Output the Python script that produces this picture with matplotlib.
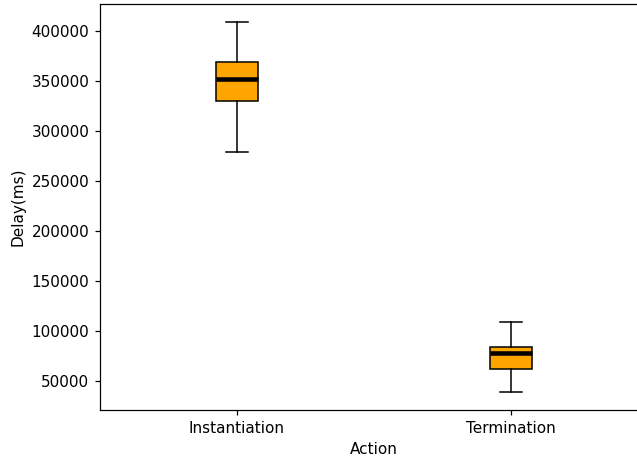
import matplotlib
matplotlib.use('Agg')
import matplotlib.pyplot as plt

actions = ['Instantiation', 'Termination']
whislo = [279000, 39000]
q1 = [330000, 62000]
med = [352000, 78000]
q3 = [369000, 84000]
whishi = [409000, 109000]

stats = []
for i, name in enumerate(actions):
    stats.append({'label': name, 'whislo': whislo[i], 'q1': q1[i], 'med': med[i],
                  'q3': q3[i], 'whishi': whishi[i], 'fliers': []})

fig, ax = plt.subplots(figsize=(637 / 110, 459 / 110), dpi=110)
ax.bxp(stats, widths=0.155, patch_artist=True, showfliers=False,
       boxprops=dict(facecolor='orange', edgecolor='black'),
       medianprops=dict(color='black', linewidth=3))
ax.set_xlabel('Action')
ax.set_ylabel('Delay(ms)')

# the original image is cropped at the right, so the axes run past the edge
ax.set_position([100 / 637, 1 - 410 / 459, 548 / 637, 406 / 459])
plt.savefig('out.png', dpi=110)
